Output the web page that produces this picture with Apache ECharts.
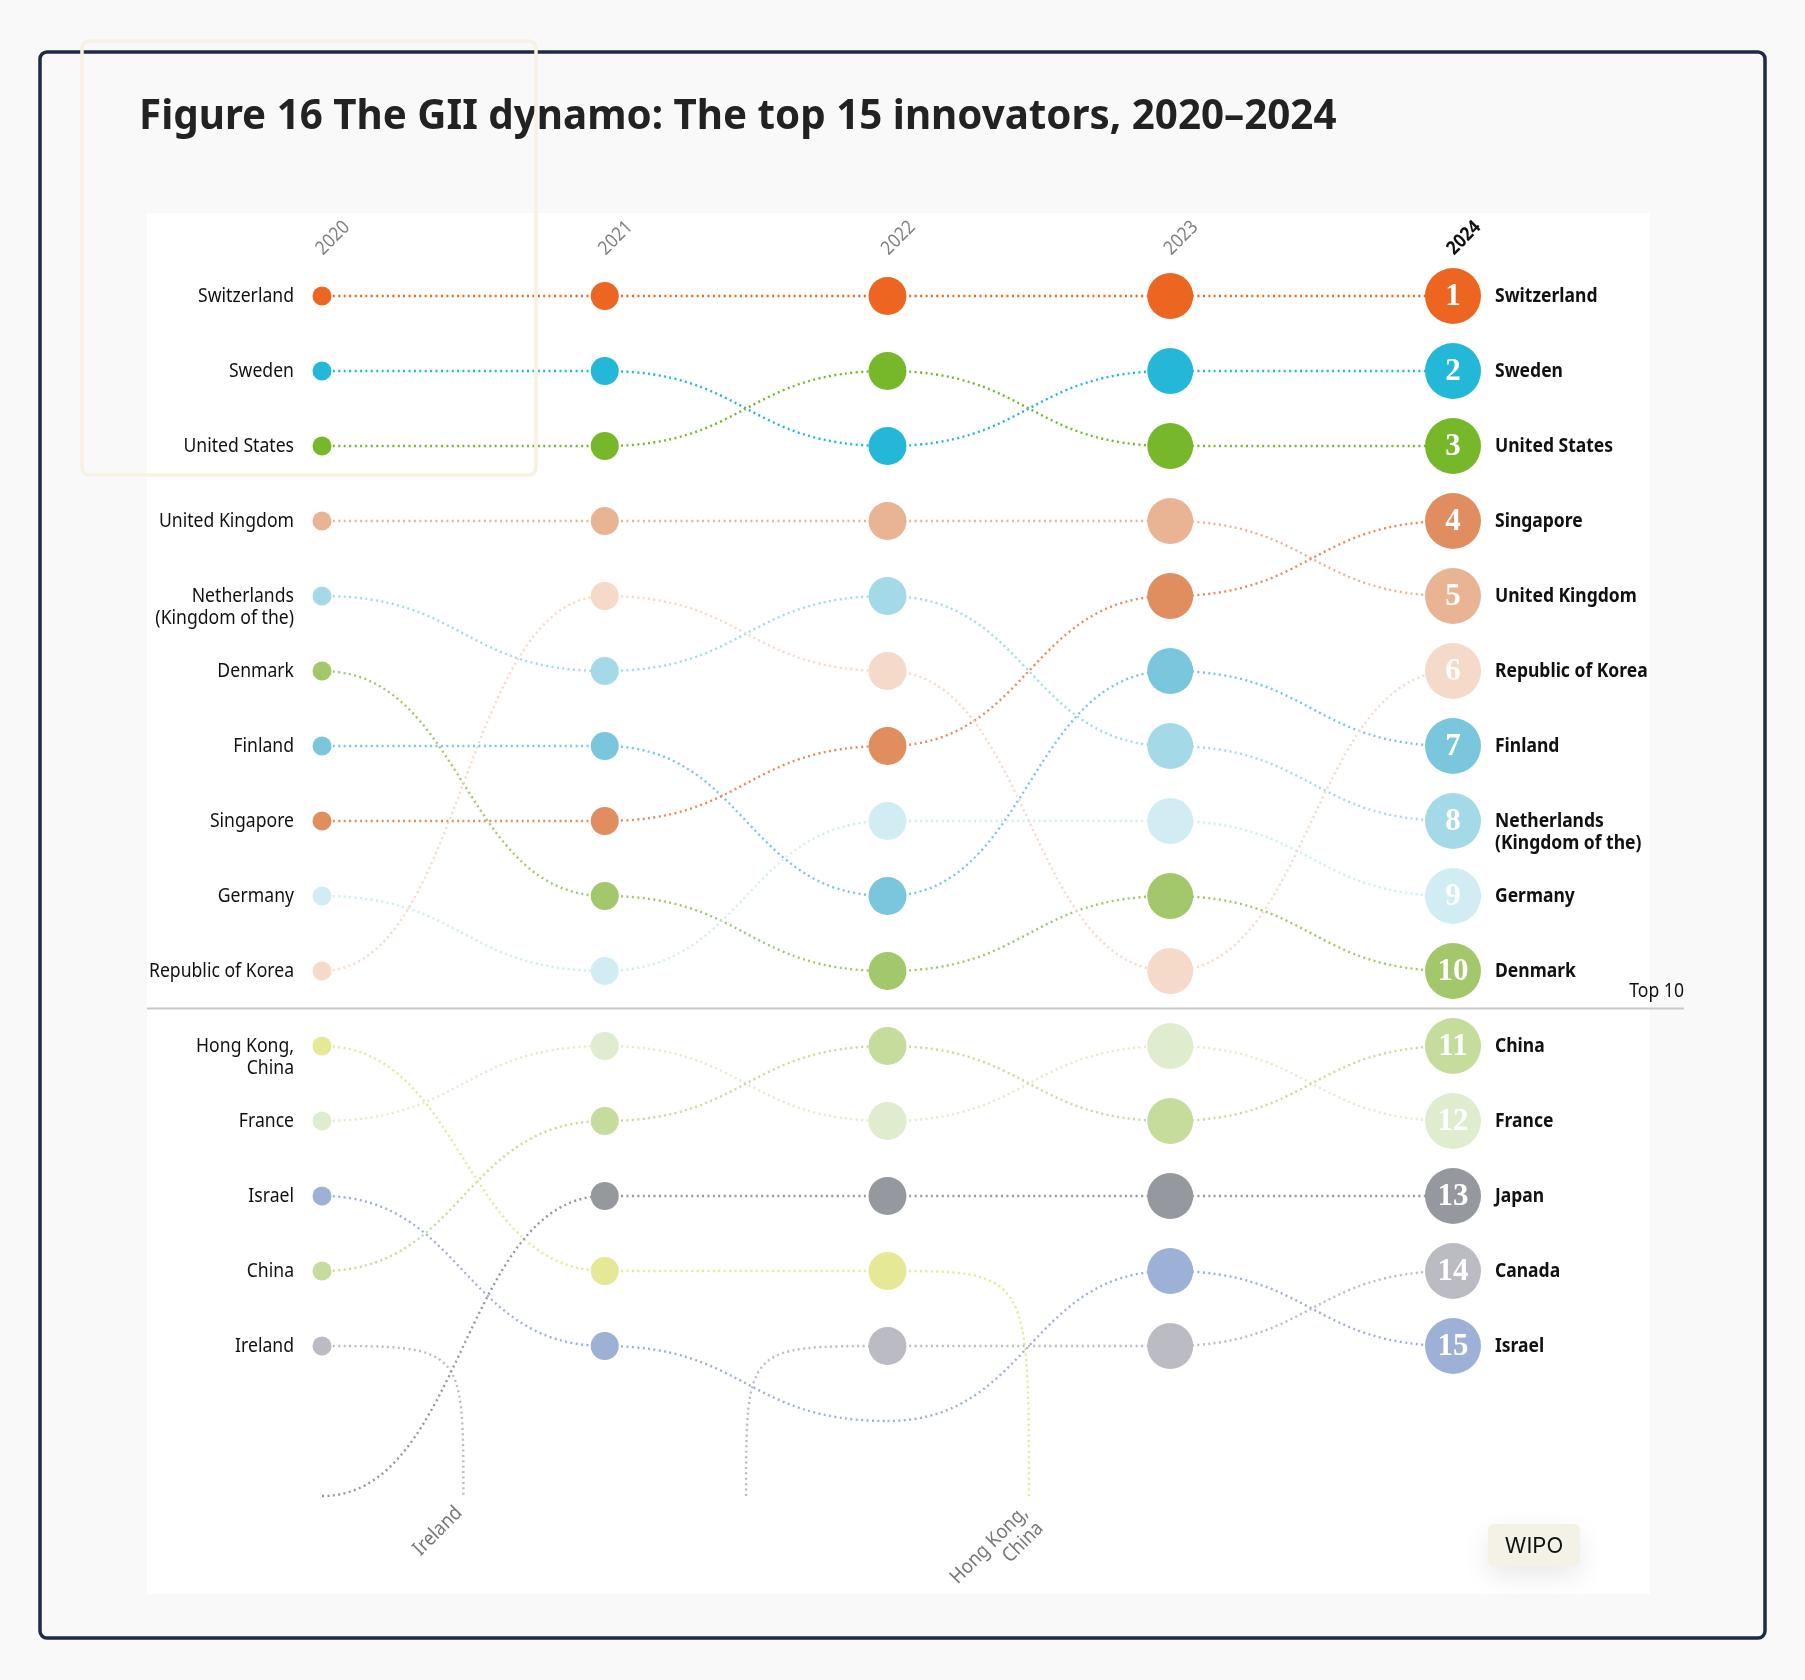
<!DOCTYPE html>
<html><head><meta charset="utf-8">
<script src="https://cdn.jsdelivr.net/npm/echarts@6/dist/echarts.min.js"></script>
<style>html,body{margin:0;padding:0;background:#f9f9f9}#c{width:1805px;height:1680px}</style>
</head><body><div id="c"></div>
<script>
// ---- data ----
const years = [2020, 2021, 2022, 2023, 2024];
const countries = ['Switzerland','Sweden','United States','United Kingdom','Netherlands (Kingdom of the)','Denmark','Finland','Singapore','Germany','Republic of Korea','Hong Kong, China','France','Israel','China','Ireland','Japan','Canada'];
const labels = ['Switzerland','Sweden','United States','United Kingdom','Netherlands\n(Kingdom of the)','Denmark','Finland','Singapore','Germany','Republic of Korea','Hong Kong,\nChina','France','Israel','China','Ireland','Japan','Canada'];
// rank per country (same order as countries); null = not in chart; >15 = below the top 15 (no dot)
const rank2020 = [1,2,3,4,5,6,7,8,9,10,11,12,13,14,15,17,null];
const rank2021 = [1,2,3,4,6,9,7,8,10,5,14,11,15,12,null,13,null];
const rank2022 = [1,3,2,4,5,10,9,7,8,6,14,12,16,11,null,13,15];
const rank2023 = [1,2,3,4,7,9,6,5,8,10,null,11,14,12,null,13,15];
const rank2024 = [1,2,3,5,8,10,7,4,9,6,null,12,15,11,null,13,14];
const topN = 15;       // ranks shown with a dot
const bottomRank = 17; // where entering / leaving lines end
const cutRank = 10.5;  // top 10 divider
const cutLabel = 'Top 10';

// ---- styles ----
const colors = ['#EC6622','#23B7D8','#77B82B','#E9B494','#A4DAE7','#A3C76B','#7AC6DD','#E08D60','#D2ECF4','#F5D9C9','#E5E996','#E0ECCE','#9DB0D5','#C5DC9C','#BBBBC3','#96989F','#BBBBC3'];
const radii = [9.5, 14, 19, 23, 28];
const ranks = [rank2020, rank2021, rank2022, rank2023, rank2024];
const FONT = 'Noto Sans';
const SX = 0.88;

function txt(x, y, text, o) {
  o = o || {};
  return {
    type: 'text', x: x, y: y, scaleX: o.scaleX || SX, rotation: o.rotation || 0,
    style: {
      text: text, x: 0, y: 0,
      fill: o.fill || '#111', fontFamily: o.family || FONT,
      fontSize: o.size || 20, fontWeight: o.weight || 'normal',
      align: o.align || 'left', verticalAlign: o.va || 'middle',
      lineHeight: o.lineHeight || 22
    }
  };
}
function rowText(x, y, text, o) {
  // first line centred on the row
  o = Object.assign({}, o, { va: 'top' });
  return txt(x, y - 11, text, o);
}

const chart = echarts.init(document.getElementById('c'), null, { renderer: 'canvas' });

const idx = countries.map((c, i) => i);

const option = {
  backgroundColor: '#f9f9f9',
  animation: false,
  grid: { left: 322, right: 352, top: 296, bottom: 184 },
  xAxis: { type: 'value', min: years[0], max: years[years.length - 1], interval: 1, show: false },
  yAxis: { type: 'value', min: 1, max: bottomRank, inverse: true, show: false },
  graphic: [
    { type: 'rect', z: -10, shape: { x: 147, y: 213, width: 1503, height: 1381 }, style: { fill: '#ffffff' } },
    { type: 'rect', z: 100, shape: { x: 40, y: 52, width: 1725, height: 1586, r: 7 }, style: { fill: 'none', stroke: '#1f2a44', lineWidth: 3.5 } },
    { type: 'rect', z: 101, shape: { x: 82, y: 41, width: 454, height: 434, r: 7 }, style: { fill: 'none', stroke: '#f6f1e2', lineWidth: 3.5 } },
    { type: 'text', z: 100, x: 139, y: 117, scaleX: 0.96,
      style: { text: 'Figure 16 The GII dynamo: The top 15 innovators, 2020–2024', fontFamily: FONT, fontWeight: 'bold', fontSize: 42, fill: '#222', verticalAlign: 'middle', align: 'left' } },
    { type: 'group', z: 100, children: [
      { type: 'rect', shape: { x: 1488, y: 1524, width: 92, height: 42, r: 5 },
        style: { fill: '#f4f2e6', shadowBlur: 28, shadowColor: 'rgba(0,0,0,0.09)', shadowOffsetY: 10 } },
      { type: 'text', style: { text: 'WIPO', x: 1534, y: 1546, align: 'center', verticalAlign: 'middle', fontFamily: 'Inter', fontSize: 22, fill: '#111' } }
    ] }
  ],
  series: [
    // divider
    {
      type: 'custom', z: 1, data: [cutRank],
      renderItem: function (params, api) {
        const a = api.coord([years[0], api.value(0)]);
        const b = api.coord([years[years.length - 1], api.value(0)]);
        const x0 = a[0] - 175, x1 = b[0] + 231;
        return { type: 'group', children: [
          { type: 'line', shape: { x1: x0, y1: a[1], x2: x1, y2: a[1] }, style: { stroke: '#c9c9c9', lineWidth: 2 } },
          txt(x1, a[1] - 17, cutLabel, { align: 'right' })
        ] };
      }
    },
    // lines
    {
      type: 'custom', z: 2, data: idx,
      renderItem: function (params, api) {
        const ci = params.dataIndex;
        let d = '';
        for (let k = 0; k < years.length - 1; k++) {
          const a = ranks[k][ci], b = ranks[k + 1][ci];
          if (a != null && b != null) {
            const p0 = api.coord([years[k], a]), p1 = api.coord([years[k + 1], b]);
            const xm = (p0[0] + p1[0]) / 2;
            d += `M${p0[0]},${p0[1]} C${xm},${p0[1]} ${xm},${p1[1]} ${p1[0]},${p1[1]} `;
          } else if (a != null && b == null) {
            const p0 = api.coord([years[k], a]), pe = api.coord([years[k] + 0.5, bottomRank]);
            d += `M${p0[0]},${p0[1]} C${pe[0]},${p0[1]} ${pe[0]},${p0[1]} ${pe[0]},${pe[1]} `;
          } else if (a == null && b != null) {
            const ps = api.coord([years[k] + 0.5, bottomRank]), p1 = api.coord([years[k + 1], b]);
            d += `M${ps[0]},${ps[1]} C${ps[0]},${p1[1]} ${ps[0]},${p1[1]} ${p1[0]},${p1[1]} `;
          }
        }
        return { type: 'path', shape: { pathData: d },
          style: { fill: 'none', stroke: colors[ci], lineWidth: 2.4, lineDash: [2, 3.4] } };
      }
    },
    // dots + labels
    {
      type: 'custom', z: 3, data: idx,
      renderItem: function (params, api) {
        const ci = params.dataIndex;
        const children = [];
        for (let k = 0; k < years.length; k++) {
          const r = ranks[k][ci];
          if (r != null && r <= topN) {
            const p = api.coord([years[k], r]);
            children.push({ type: 'circle', shape: { cx: p[0], cy: p[1], r: radii[k] }, style: { fill: colors[ci] } });
            if (k === 0) children.push(rowText(p[0] - 28, p[1], labels[ci], { align: 'right' }));
            if (k === years.length - 1) {
              children.push({ type: 'text', style: { text: String(r), x: p[0], y: p[1] + 1, align: 'center', verticalAlign: 'middle',
                fontFamily: 'Liberation Serif', fontWeight: 'bold', fontSize: 31, fill: '#ffffff' } });
              children.push(rowText(p[0] + 42, p[1], labels[ci], { weight: 'bold', scaleX: 0.875 }));
            }
          }
          if (k < years.length - 1 && r != null && ranks[k + 1][ci] == null) {
            const pe = api.coord([years[k] + 0.5, bottomRank]);
            children.push(txt(pe[0] - 12, pe[1] + 6, labels[ci], { align: 'right', va: 'top', rotation: Math.PI / 4, fill: '#777', scaleX: 0.9 }));
          }
        }
        return { type: 'group', children: children };
      }
    },
    // year labels
    {
      type: 'custom', z: 3, data: years,
      renderItem: function (params, api) {
        const k = params.dataIndex;
        const p = api.coord([api.value(0), 1]);
        const last = k === years.length - 1;
        return txt(p[0] + 11, p[1] - 58, String(years[k]), { align: 'center', rotation: Math.PI / 4, size: 19,
          fill: last ? '#111' : '#808080', weight: last ? 'bold' : 'normal', scaleX: 0.9 });
      }
    }
  ]
};
chart.setOption(option);
</script></body></html>
